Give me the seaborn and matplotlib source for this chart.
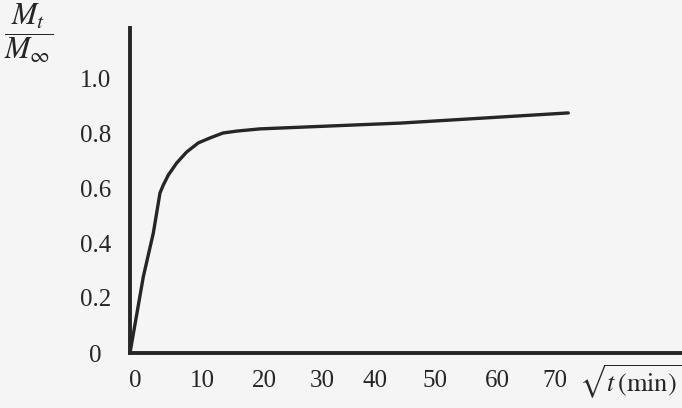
import matplotlib
matplotlib.use("Agg")
import matplotlib.pyplot as plt
import seaborn as sns
import pandas as pd

# Curve (x in sqrt(t) units, y = Mt/Minf)
sqrt_t = [0.0, 2.19, 3.84, 4.94, 5.49, 6.31, 7.69, 9.34, 11.25, 13.18,
          15.32, 17.63, 21.42, 44.5, 72.2]
ratio = [0.0, 0.277, 0.436, 0.582, 0.611, 0.647, 0.691, 0.731, 0.764, 0.782,
         0.800, 0.807, 0.815, 0.836, 0.873]

# Tick positions as drawn (hand-placed, uneven) and their labels
x_tick_pos = [0.8, 12.0, 22.2, 31.6, 40.4, 50.2, 60.5, 70.0]
x_tick_labels = ["0", "10", "20", "30", "40", "50", "60", "70"]
y_tick_pos = [0.0, 0.2, 0.4, 0.6, 0.8, 1.0]
y_tick_labels = ["0", "0.2", "0.4", "0.6", "0.8", "1.0"]

sns.set_style("white")
plt.rcParams["font.family"] = ["Liberation Serif", "DejaVu Serif"]
plt.rcParams["mathtext.fontset"] = "stix"

bg = "#f5f5f5"
ink = "#262626"

fig = plt.figure(figsize=(6.82, 4.08), dpi=100, facecolor=bg)
ax = fig.add_axes([130 / 682, (408 - 353) / 408, (682 - 130) / 682, (353 - 28) / 408])
ax.set_facecolor(bg)

df = pd.DataFrame({"x": sqrt_t, "y": ratio})
sns.lineplot(data=df, x="x", y="y", ax=ax, color=ink, linewidth=2.4, sort=False)
ax.lines[0].set_solid_joinstyle("round")

ax.set_xlim(0, (682 - 130) / 6.07)
ax.set_ylim(0, (353 - 28) / 275)

for s in ["top", "right"]:
    ax.spines[s].set_visible(False)
for s in ["left", "bottom"]:
    ax.spines[s].set_color(ink)
    ax.spines[s].set_linewidth(2.8)

ax.set_xticks(x_tick_pos)
ax.set_xticklabels(x_tick_labels, fontsize=18, color=ink)
ax.set_yticks(y_tick_pos)
ax.set_yticklabels(y_tick_labels, fontsize=18, color=ink, ha="center")
ax.tick_params(axis="x", length=0, pad=12)
ax.tick_params(axis="y", length=0, pad=25)
ax.set_xlabel("")
ax.set_ylabel("")

fig.text(4 / 682, 1 - 33 / 408, r"$\dfrac{M_t}{M_\infty}$", fontsize=22,
         color=ink, ha="left", va="center")
fig.text(681 / 682, 1 - 382 / 408, r"$\sqrt{t\,(\mathrm{min})}$", fontsize=19,
         color=ink, ha="right", va="center")

fig.savefig("out.png", dpi=100, facecolor=bg)
